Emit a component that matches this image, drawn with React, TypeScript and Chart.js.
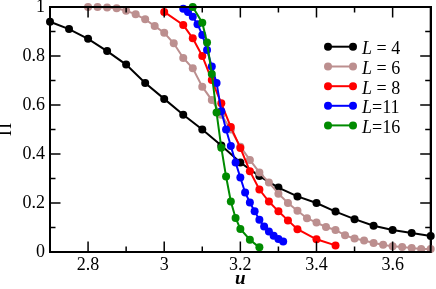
import React, { useEffect, useRef } from "react";
import { Chart, registerables } from "chart.js";

Chart.register(...registerables);

const FONT = '"Liberation Serif", "Times New Roman", serif';

const seriesLabels = ["4", "6", "8", "11", "16"];
const seriesEq = [" = ", " = ", " = ", "=", "="];
const seriesColors = ["#000000", "rgb(188,143,143)", "#ff0000", "#0000ff", "rgb(0,139,0)"];

const uL4 = [2.7, 2.75, 2.8, 2.85, 2.9, 2.95, 3.0, 3.05, 3.1, 3.15, 3.2, 3.25, 3.3, 3.35, 3.4, 3.45, 3.5, 3.55, 3.6, 3.65, 3.7];
const piL4 = [0.94, 0.91, 0.87, 0.82, 0.765, 0.69, 0.625, 0.56, 0.5, 0.435, 0.365, 0.31, 0.263, 0.227, 0.2, 0.165, 0.134, 0.107, 0.09, 0.078, 0.065];

const uL6 = [2.8, 2.825, 2.85, 2.875, 2.9, 2.925, 2.95, 2.975, 3.0, 3.025, 3.05, 3.075, 3.1, 3.125, 3.15, 3.175, 3.2, 3.225, 3.25, 3.275, 3.3, 3.325, 3.35, 3.375, 3.4, 3.425, 3.45, 3.475, 3.5, 3.525, 3.55, 3.575, 3.6, 3.625, 3.65, 3.675, 3.7];
const piL6 = [1.0, 1.0, 0.998, 0.995, 0.985, 0.97, 0.95, 0.922, 0.895, 0.852, 0.792, 0.75, 0.675, 0.62, 0.56, 0.5, 0.43, 0.376, 0.325, 0.284, 0.238, 0.2, 0.168, 0.138, 0.12, 0.102, 0.09, 0.068, 0.055, 0.047, 0.037, 0.03, 0.023, 0.02, 0.016, 0.012, 0.012];

const uL8 = [3.0, 3.05, 3.075, 3.1, 3.125, 3.15, 3.175, 3.2, 3.225, 3.25, 3.275, 3.3, 3.325, 3.35, 3.4, 3.45];
const piL8 = [0.98, 0.927, 0.872, 0.8, 0.702, 0.607, 0.51, 0.425, 0.33, 0.255, 0.206, 0.166, 0.129, 0.093, 0.052, 0.027];

const uL11 = [3.05, 3.0625, 3.075, 3.0875, 3.1, 3.1125, 3.125, 3.1375, 3.15, 3.1625, 3.175, 3.1875, 3.2, 3.2125, 3.225, 3.2375, 3.25, 3.2625, 3.275, 3.2875, 3.3, 3.3125];
const piL11 = [0.993, 0.98, 0.96, 0.93, 0.886, 0.825, 0.757, 0.69, 0.575, 0.5, 0.433, 0.365, 0.304, 0.243, 0.202, 0.166, 0.132, 0.104, 0.084, 0.066, 0.053, 0.043];

const uL16 = [3.075, 3.1, 3.1125, 3.125, 3.1375, 3.15, 3.1625, 3.175, 3.1875, 3.2, 3.225, 3.25];
const piL16 = [1.0, 0.936, 0.855, 0.727, 0.569, 0.426, 0.308, 0.206, 0.139, 0.094, 0.05, 0.019];

const xMajorTicks = [2.8, 3.0, 3.2, 3.4, 3.6];
const xMinorTicks = [2.9, 3.1, 3.3, 3.5];
const yMajorTicks = [0.2, 0.4, 0.6, 0.8];
const yMinorTicks = [0.1, 0.3, 0.5, 0.7, 0.9];

const uSeries = [uL4, uL6, uL8, uL11, uL16];
const piSeries = [piL4, piL6, piL8, piL11, piL16];

function drawFrameOn(ctx: any, chart: any) {
  const xs = chart.scales.x;
  const ys = chart.scales.y;
  const left = xs.left;
  const right = xs.right;
  const top = ys.top;
  const bottom = ys.bottom;
  const major = 10.5;
  const minor = 5.5;
  ctx.save();
  ctx.strokeStyle = "#000000";
  ctx.lineWidth = 1.5;
  const segs: number[][] = [];
  xMajorTicks.forEach((v) => {
    const px = xs.getPixelForValue(v);
    segs.push([px, bottom, px, bottom - major], [px, top, px, top + major]);
  });
  xMinorTicks.forEach((v) => {
    const px = xs.getPixelForValue(v);
    segs.push([px, bottom, px, bottom - minor], [px, top, px, top + minor]);
  });
  yMajorTicks.forEach((v) => {
    const py = ys.getPixelForValue(v);
    segs.push([left, py, left + major, py], [right, py, right - major, py]);
  });
  yMinorTicks.forEach((v) => {
    const py = ys.getPixelForValue(v);
    segs.push([left, py, left + minor, py], [right, py, right - minor, py]);
  });
  segs.forEach((s) => {
    ctx.beginPath();
    ctx.moveTo(s[0], s[1]);
    ctx.lineTo(s[2], s[3]);
    ctx.stroke();
  });
  ctx.lineWidth = 2;
  ctx.beginPath();
  ctx.moveTo(left, top);
  ctx.lineTo(right, top);
  ctx.lineTo(right, bottom);
  ctx.lineTo(left, bottom);
  ctx.closePath();
  ctx.stroke();
  ctx.restore();
}

function drawLegend(chart: any) {
  const ctx = chart.ctx;
  ctx.save();
  const x0 = 328;
  const x1 = 353;
  const tx = 362;
  const rowY = [46.7, 66.5, 86.2, 105.8, 125.4];
  chart.data.datasets.forEach((ds: any, i: number) => {
    const y = rowY[i];
    ctx.strokeStyle = ds.borderColor;
    ctx.lineWidth = 2;
    ctx.beginPath();
    ctx.moveTo(x0, y);
    ctx.lineTo(x1, y);
    ctx.stroke();
    ctx.fillStyle = ds.borderColor;
    [x0, x1].forEach((px) => {
      ctx.beginPath();
      ctx.arc(px, y, 4, 0, Math.PI * 2);
      ctx.fill();
    });
    ctx.fillStyle = "#000";
    ctx.textBaseline = "alphabetic";
    ctx.textAlign = "left";
    ctx.font = `italic 18px ${FONT}`;
    ctx.fillText("L", tx, y + 7.3);
    const w = ctx.measureText("L").width;
    ctx.font = `18px ${FONT}`;
    ctx.fillText(seriesEq[i] + seriesLabels[i], tx + w, y + 7.3);
  });
  ctx.restore();
}

const overlayPlugin = {
  id: "overlayPlugin",
  afterDraw(chart: any) {
    drawLegend(chart);
  },
};

const hiddenAxis = (position: string, axisKind: "x" | "y") => ({
  type: "linear" as const,
  position,
  min: axisKind === "x" ? 2.7 : 0,
  max: axisKind === "x" ? 3.7 : 1,
  grid: { display: true, drawOnChartArea: false, drawTicks: false, color: "rgba(0,0,0,0)" },
  border: { display: true, color: "#000", width: 2 },
  ticks: { display: false },
  afterFit: (s: any) => {
    if (axisKind === "x") s.height = 0;
    else s.width = 0;
    s.paddingTop = 0;
    s.paddingBottom = 0;
    s.paddingLeft = 0;
    s.paddingRight = 0;
  },
});

export default function App() {
  const ref = useRef<HTMLCanvasElement | null>(null);
  const overlayRef = useRef<HTMLCanvasElement | null>(null);
  useEffect(() => {
    document.body.style.margin = "0";
    if (!ref.current) return;
    const datasets = uSeries.map((us, i) => ({
      label: "L=" + seriesLabels[i],
      data: us.map((u, j) => ({ x: u, y: piSeries[i][j] })),
      borderColor: seriesColors[i],
      backgroundColor: seriesColors[i],
      pointBackgroundColor: seriesColors[i],
      pointBorderWidth: 0,
      pointRadius: 4,
      borderWidth: 2,
      tension: 0,
      clip: false,
      order: 4 - i,
    }));
    const chart = new Chart(ref.current, {
      type: "line",
      data: { datasets },
      options: {
        responsive: false,
        animation: false,
        events: [],
        layout: { padding: { left: 0, right: 5.3, top: 7, bottom: 0 } },
        plugins: { legend: { display: false }, tooltip: { enabled: false } },
        scales: {
          x: {
            type: "linear",
            min: 2.7,
            max: 3.7,
            grid: { display: true, drawOnChartArea: false, drawTicks: false, color: "rgba(0,0,0,0)" },
            border: { display: true, color: "#000", width: 2 },
            ticks: {
              stepSize: 0.1,
              autoSkip: false,
              maxRotation: 0,
              padding: 2,
              color: "#000",
              font: { family: FONT, size: 18 },
              callback: (v: any) => {
                const t = Math.round(Number(v) * 10);
                if (t % 2 !== 0) return null;
                return String(t / 10);
              },
            },
            title: {
              display: true,
              text: "u",
              color: "#000",
              font: { family: FONT, size: 19, style: "italic", weight: "bold", lineHeight: 1 },
              padding: { top: 0, bottom: 0 },
            },
            afterFit: (s: any) => {
              s.height = 37;
              s.paddingLeft = 0;
              s.paddingRight = 0;
            },
          },
          y: {
            type: "linear",
            min: 0,
            max: 1,
            grid: { display: true, drawOnChartArea: false, drawTicks: false, color: "rgba(0,0,0,0)" },
            border: { display: true, color: "#000", width: 2 },
            ticks: {
              stepSize: 0.1,
              autoSkip: false,
              padding: 5,
              color: "#000",
              font: { family: FONT, size: 18 },
              callback: (v: any) => {
                const t = Math.round(Number(v) * 10);
                if (t % 2 !== 0) return null;
                return String(t / 10);
              },
            },
            title: {
              display: true,
              text: "Π",
              color: "#000",
              font: { family: FONT, size: 18, lineHeight: 0.75 },
              padding: { top: 0, bottom: 0 },
            },
            afterFit: (s: any) => {
              s.width = 50;
              s.paddingTop = 0;
              s.paddingBottom = 0;
            },
          },
          xTop: hiddenAxis("top", "x"),
          yRight: hiddenAxis("right", "y"),
        },
      },
      plugins: [overlayPlugin],
    });
    const ov = overlayRef.current;
    if (ov) {
      const octx = ov.getContext("2d");
      if (octx) {
        octx.clearRect(0, 0, ov.width, ov.height);
        drawFrameOn(octx, chart);
      }
    }
    return () => {
      chart.destroy();
      if (ov) {
        const octx = ov.getContext("2d");
        if (octx) octx.clearRect(0, 0, ov.width, ov.height);
      }
    };
  }, []);
  return (
    <div style={{ position: "relative", width: 436, height: 289 }}>
      <canvas ref={ref} width={436} height={289} style={{ display: "block", position: "absolute", left: 0, top: 0 }} />
      <canvas
        ref={overlayRef}
        width={436}
        height={289}
        style={{ display: "block", position: "absolute", left: 0, top: 0, pointerEvents: "none" }}
      />
    </div>
  );
}
